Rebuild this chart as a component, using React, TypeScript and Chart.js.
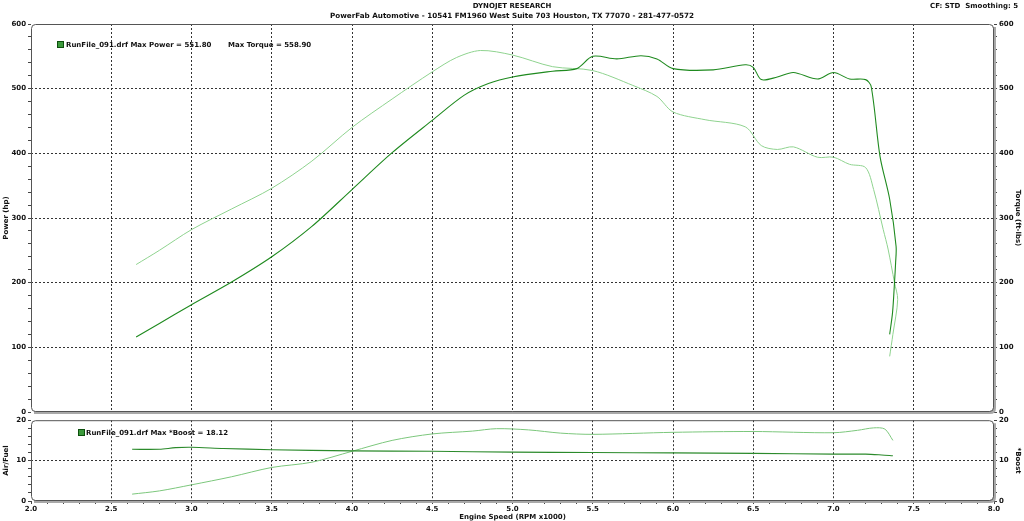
import React, { useEffect, useRef } from "react";
import { Chart, registerables } from "chart.js";
Chart.register(...registerables);

// ---------- data ----------
const powerRpm = [2.655, 2.8, 3.0, 3.25, 3.5, 3.75, 4.0, 4.25, 4.5, 4.7, 4.85, 5.0, 5.25, 5.4, 5.5, 5.65, 5.8, 5.9, 6.0, 6.25, 6.45, 6.5, 6.55, 6.65, 6.75, 6.9, 7.0, 7.1, 7.2, 7.235, 7.29, 7.35, 7.39, 7.387, 7.38, 7.368, 7.35];
const powerHp = [116, 137, 166, 201, 240, 287, 344, 401, 451, 490, 508, 518, 527, 531, 550, 546, 551, 546, 531, 529, 537, 533, 514, 518, 525, 515, 525, 515, 514, 503, 395, 329, 256, 231, 200, 154, 120];

const torqueRpm = [2.655, 2.8, 3.0, 3.25, 3.5, 3.75, 4.0, 4.25, 4.5, 4.65, 4.8, 5.0, 5.25, 5.5, 5.75, 5.9, 6.0, 6.2, 6.45, 6.55, 6.65, 6.75, 6.9, 7.0, 7.1, 7.2, 7.25, 7.31, 7.34, 7.38, 7.4, 7.37, 7.35];
const torqueFtLbs = [228, 250, 282, 314, 346, 388, 440, 484, 526, 548, 559, 552, 534, 528, 505, 488, 464, 452, 441, 412, 406, 410, 394, 394, 383, 378, 344, 282, 252, 200, 174, 120, 86];

const afrRpm = [2.63, 2.8, 2.9, 3.0, 3.2, 3.5, 4.0, 4.5, 5.0, 5.5, 6.0, 6.5, 7.0, 7.2, 7.3, 7.37];
const airFuel = [12.8, 12.8, 13.2, 13.3, 13.0, 12.7, 12.4, 12.3, 12.1, 12.0, 11.9, 11.8, 11.6, 11.6, 11.4, 11.2];

const boostRpm = [2.63, 2.8, 3.0, 3.25, 3.5, 3.75, 4.0, 4.25, 4.5, 4.75, 4.9, 5.1, 5.3, 5.5, 6.0, 6.5, 7.0, 7.15, 7.25, 7.32, 7.37];
const boostPsi = [1.7, 2.5, 4.0, 6.0, 8.3, 9.6, 12.3, 15.0, 16.6, 17.3, 17.9, 17.6, 16.8, 16.5, 17.0, 17.2, 16.9, 17.5, 18.1, 17.8, 15.0];

const titleLine1 = "DYNOJET RESEARCH";
const titleLine2 = "PowerFab Automotive - 10541 FM1960 West Suite 703 Houston, TX 77070 - 281-477-0572";
const cornerText = "CF: STD  Smoothing: 5";
const legendTop = "RunFile_091.drf Max Power = 551.80";
const legendTop2 = "Max Torque = 558.90";
const legendBottom = "RunFile_091.drf Max *Boost = 18.12";

// ---------- helpers ----------
const FONT = "'DejaVu Sans', Verdana, sans-serif";
const isMult = (v: number, m: number) => Math.abs(v / m - Math.round(v / m)) < 1e-6;
const pts = (xs: number[], ys: number[]) => xs.map((x, i) => ({ x, y: ys[i] }));

const framePlugin = {
  id: "frame",
  afterDatasetsDraw(chart: any) {
    const { ctx, chartArea } = chart;
    const { left, top, right, bottom } = chartArea;
    ctx.save();
    ctx.strokeStyle = "#a9a9a9";
    ctx.lineWidth = 3;
    ctx.beginPath();
    ctx.moveTo(left + 3, bottom + 0.5);
    ctx.lineTo(right - 4, bottom + 0.5);
    ctx.quadraticCurveTo(right + 0.5, bottom + 0.5, right + 0.5, bottom - 4);
    ctx.lineTo(right + 0.5, top + 3);
    ctx.stroke();
    ctx.strokeStyle = "#555";
    ctx.lineWidth = 1;
    ctx.beginPath();
    (ctx as any).roundRect(left + 0.5, top + 0.5, right - left - 1, bottom - top - 1, 4);
    ctx.stroke();
    ctx.restore();
  },
};

function yScale(position: string, max: number, major: number, minor: number, title: string, width: number, onArea: boolean) {
  return {
    type: "linear",
    position,
    min: 0,
    max,
    afterFit: (s: any) => {
      s.width = width;
    },
    ticks: {
      stepSize: minor,
      autoSkip: false,
      padding: 2,
      color: "#111",
      callback: (v: any) => (isMult(Number(v), major) ? String(v) : ""),
    },
    grid: {
      drawOnChartArea: onArea,
      color: (c: any) => {
        const v = c.tick ? c.tick.value : null;
        return v != null && isMult(v, major) && v > 0 && v < max ? "#333" : "rgba(0,0,0,0)";
      },
      tickColor: "#444",
      tickLength: 3,
      lineWidth: 1,
    },
    border: { display: false, dash: [2, 2] },
    title: { display: true, text: title, color: "#111", padding: { top: 2, bottom: 2 } },
  };
}

export default function App() {
  const topRef = useRef<HTMLCanvasElement>(null);
  const botRef = useRef<HTMLCanvasElement>(null);

  useEffect(() => {
    Chart.defaults.font.family = FONT;
    Chart.defaults.font.size = 7;
    (Chart.defaults.font as any).weight = "bold";
    Chart.defaults.color = "#111";

    const xGrid = (c: any) => {
      const v = c.tick ? c.tick.value : null;
      return v != null && isMult(v, 0.5) && v > 2 && v < 8 ? "#333" : "rgba(0,0,0,0)";
    };

    const top = new Chart(topRef.current as HTMLCanvasElement, {
      type: "line",
      data: {
        datasets: [
          { label: "Power", data: pts(powerRpm, powerHp), yAxisID: "y", borderColor: "#1f8a1f", borderWidth: 1.1, pointRadius: 0, tension: 0.3, fill: false },
          { label: "Torque", data: pts(torqueRpm, torqueFtLbs), yAxisID: "y2", borderColor: "#8fd38f", borderWidth: 1, pointRadius: 0, tension: 0.3, fill: false },
        ],
      },
      options: {
        animation: false,
        responsive: false,
        devicePixelRatio: 1,
        layout: { padding: { top: 24, bottom: 8, left: 0, right: 0 } },
        plugins: { legend: { display: false }, tooltip: { enabled: false } },
        scales: {
          x: {
            type: "linear",
            min: 2,
            max: 8,
            afterFit: (s: any) => {
              s.height = 0;
            },
            ticks: { display: false, stepSize: 0.5, autoSkip: false },
            grid: { color: xGrid, drawTicks: false, lineWidth: 1 },
            border: { display: false, dash: [2, 2] },
          },
          y: yScale("left", 600, 100, 20, "Power (hp)", 31, true),
          y2: yScale("right", 600, 100, 20, "Torque (ft-lbs)", 30, false),
        } as any,
      },
      plugins: [framePlugin],
    } as any);

    const bot = new Chart(botRef.current as HTMLCanvasElement, {
      type: "line",
      data: {
        datasets: [
          { label: "Air/Fuel", data: pts(afrRpm, airFuel), yAxisID: "y", borderColor: "#2b8a2b", borderWidth: 1.1, pointRadius: 0, tension: 0.3, fill: false },
          { label: "*Boost", data: pts(boostRpm, boostPsi), yAxisID: "y2", borderColor: "#7cc77c", borderWidth: 1, pointRadius: 0, tension: 0.3, fill: false },
        ],
      },
      options: {
        animation: false,
        responsive: false,
        devicePixelRatio: 1,
        layout: { padding: { top: 6, bottom: 0, left: 0, right: 0 } },
        plugins: { legend: { display: false }, tooltip: { enabled: false } },
        scales: {
          x: {
            type: "linear",
            min: 2,
            max: 8,
            afterFit: (s: any) => {
              s.height = 20;
            },
            ticks: {
              stepSize: 0.1,
              autoSkip: false,
              maxRotation: 0,
              padding: 1,
              color: "#111",
              callback: (v: any) => (isMult(Number(v), 0.5) ? Number(v).toFixed(1) : ""),
            },
            grid: { color: xGrid, tickColor: "#444", tickLength: 3, lineWidth: 1 },
            border: { display: false, dash: [2, 2] },
            title: { display: true, text: "Engine Speed (RPM x1000)", color: "#111", padding: { top: 0, bottom: 0 } },
          },
          y: yScale("left", 20, 10, 2, "Air/Fuel", 31, true),
          y2: yScale("right", 20, 10, 2, "*Boost", 30, false),
        } as any,
      },
      plugins: [framePlugin],
    } as any);

    return () => {
      top.destroy();
      bot.destroy();
    };
  }, []);

  const txt: React.CSSProperties = { position: "absolute", whiteSpace: "pre", lineHeight: "7px", fontSize: 7, fontWeight: "bold", fontFamily: FONT, color: "#111" };
  const square: React.CSSProperties = { position: "absolute", width: 5, height: 5, background: "#3c9a3c", border: "1px solid #0d4f0d" };

  return (
    <div style={{ position: "fixed", left: 0, top: 0, width: 1024, height: 521, background: "#fff", overflow: "hidden" }}>
      <canvas ref={topRef} width={1024} height={420} style={{ position: "absolute", left: 0, top: 0 }} />
      <canvas ref={botRef} width={1024} height={107} style={{ position: "absolute", left: 0, top: 414 }} />
      <div style={{ ...txt, left: 0, width: 1024, textAlign: "center", top: 3 }}>{titleLine1}</div>
      <div style={{ ...txt, left: 0, width: 1024, textAlign: "center", top: 12, fontSize: 7.2 }}>{titleLine2}</div>
      <div style={{ ...txt, left: 930, top: 3 }}>{cornerText}</div>
      <div style={{ ...square, left: 57, top: 41 }} />
      <div style={{ ...txt, left: 66, top: 42 }}>{legendTop}</div>
      <div style={{ ...txt, left: 228, top: 42 }}>{legendTop2}</div>
      <div style={{ ...square, left: 78, top: 429 }} />
      <div style={{ ...txt, left: 86, top: 430 }}>{legendBottom}</div>
    </div>
  );
}
